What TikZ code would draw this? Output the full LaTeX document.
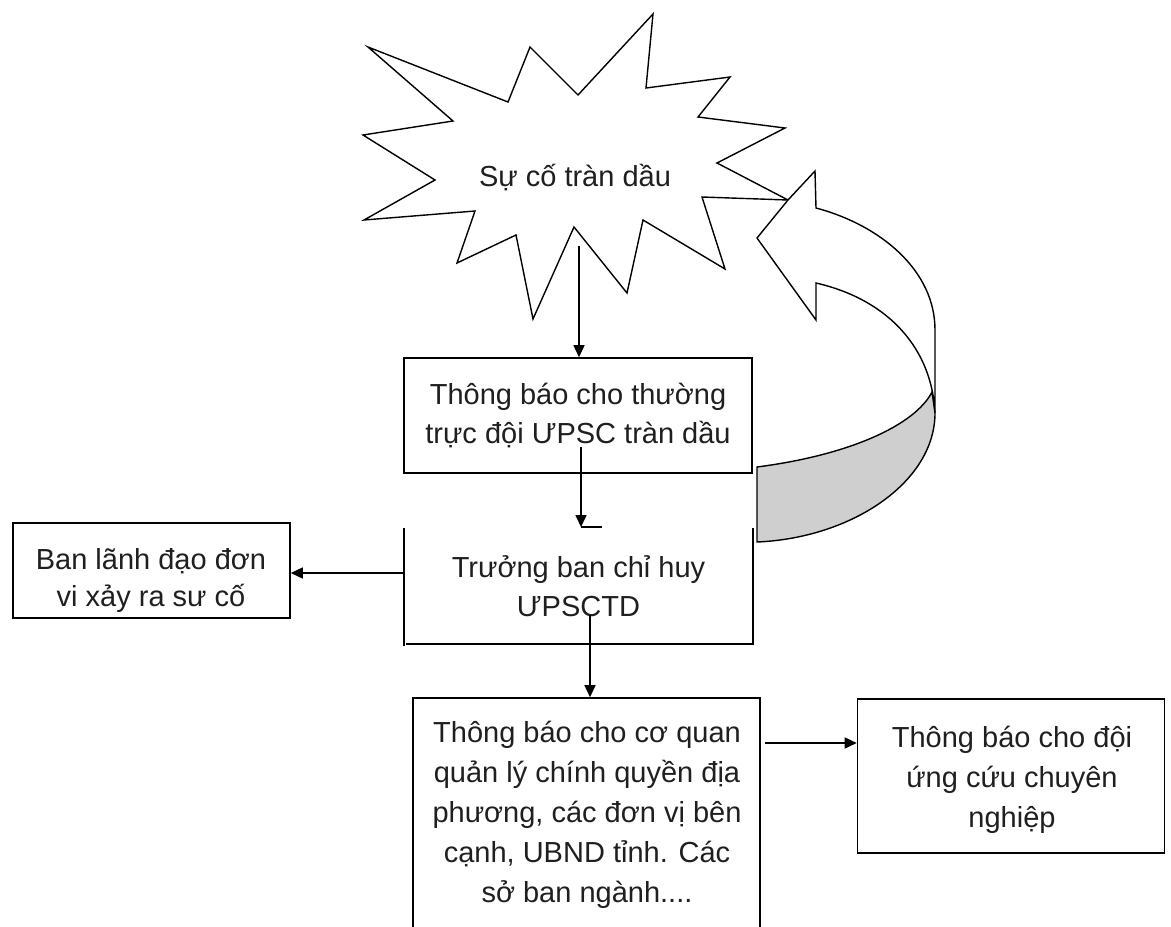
\documentclass[tikz,border=0pt]{standalone}
\usepackage{fontspec}
\setmainfont{Liberation Sans}
\usetikzlibrary{arrows.meta}
\begin{document}
\begin{tikzpicture}[x=1pt,y=-1pt, line width=1.6pt,
  txt/.style={font=\fontsize{29}{39}\selectfont, align=center, inner sep=0pt, text=black!88},
  boxed/.style={draw, rectangle, inner sep=0pt},
  arr/.style={-{Triangle[length=12pt,width=11pt]}}]
\useasboundingbox (0,0) rectangle (1171,927);
\clip (0,0) rectangle (1171,927);

% starburst
\draw[line width=1.4pt, line join=miter, fill=white] (368,47) -- (508,102) -- (530,47) -- (578,95) -- (653,14) -- (646,88) -- (730,77) -- (698,117) -- (785,128) -- (717,163) -- (788,200) -- (702,197) -- (725,269) -- (643,220) -- (627,293) -- (574,227) -- (533,319) -- (516,235) -- (457,263) -- (475,211) -- (364,220) -- (435,180) -- (363,135) -- (453,121) -- cycle;
\node[txt] (burst) at (575,178) {Sự cố tràn dầu};

% curved block arrow
\draw[fill=black!19, line width=1.4pt] (757,467) .. controls (850,455) and (915,425) .. (932,392) -- (935,413) .. controls (935,482) and (852,538) .. (757,542) -- cycle;
\draw[fill=white, line width=1.4pt, line join=miter] (788,200) -- (815,171) -- (816,208) .. controls (880,225) and (935,270) .. (935,330) -- (935,413) .. controls (932,350) and (890,300) .. (816,283) -- (816,320) -- (757,238) -- cycle;

% box 1
\node[boxed, txt, minimum width=348pt, minimum height=115pt] (b1) at (578,415.5) {Thông báo cho thường\\trực đội ƯPSC tràn dầu};
\coordinate (s1) at (579,246);
\draw[arr] (s1) -- (s1 |- b1.north);

% box 2 (open top)
\node[txt, minimum width=347pt, minimum height=114pt] (b2) at (578.5,586) {Trưởng ban chỉ huy\\ƯPSCTD};
\draw (b2.north west) -- ([yshift=-2pt]b2.south west);
\draw ([xshift=2pt]b2.south west) -- (b2.south east) -- (b2.north east);
\coordinate (s2) at (581,447);
\coordinate (t2) at (581,527);
\draw[arr] (s2) -- (t2);
\draw (t2) -- ++(21,0);

% box 3
\node[boxed, minimum width=347pt, minimum height=234pt] (b3) at (586.5,815) {};
\node[txt, font=\fontsize{29}{40}\selectfont] (b3t) at (587,815) {Thông báo cho cơ quan\\quản lý chính quyền địa\\phương, các đơn vị bên\\cạnh, UBND tỉnh. Các\\sở ban ngành....};
\coordinate (s3) at (590,615);
\draw[arr] (s3) -- (s3 |- b3.north);

% box 4
\node[boxed, minimum width=307pt, minimum height=154pt] (b4) at (1011,776) {};
\node[txt, font=\fontsize{29}{40}\selectfont] (b4t) at (1012,780) {Thông báo cho đội\\ứng cứu chuyên\\nghiệp};
\coordinate (s4) at (765,743);
\draw[arr] (s4) -- (s4 -| b4.west);

% box 5
\node[boxed, minimum width=277pt, minimum height=95pt] (b5) at (151.5,570.5) {};
\node[txt, font=\fontsize{29}{37}\selectfont] (b5t) at (151,580) {Ban lãnh đạo đơn\\vi xảy ra sư cố};
\coordinate (s5) at (405,573);
\draw[arr] (s5) -- (s5 -| b5.east);
\end{tikzpicture}
\end{document}
